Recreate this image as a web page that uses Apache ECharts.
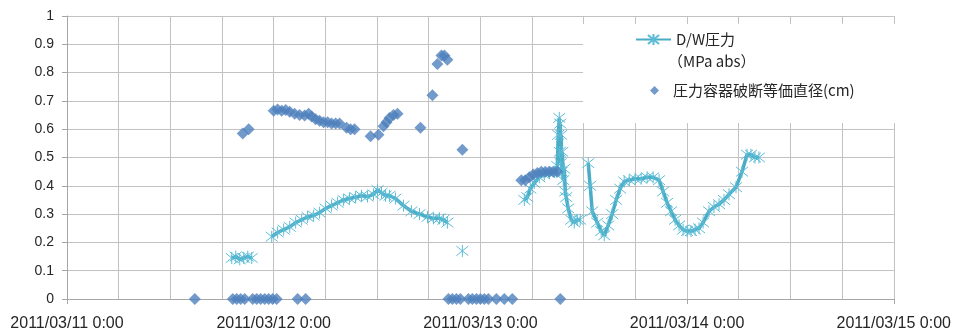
<!DOCTYPE html>
<html>
<head>
<meta charset="utf-8">
<script src="https://cdn.jsdelivr.net/npm/echarts@6/dist/echarts.min.js"></script>
<style>
html, body { margin: 0; padding: 0; background: #fff; }
#chart { width: 954px; height: 334px; }
</style>
</head>
<body>
<div id="chart"></div>
<script>
// x values are hours since 2011/03/11 0:00
var dayLabels = ['2011/03/11 0:00', '2011/03/12 0:00', '2011/03/13 0:00', '2011/03/14 0:00', '2011/03/15 0:00'];

// D/W pressure (MPa abs), null = gap in the line
var dwHours = [19.13, 19.59, 20.06, 20.52, 20.99, 21.45, 22.5,
	23.77, 24.46, 25.16, 25.86, 26.55, 27.25, 27.94, 28.64, 29.33, 30.03, 30.72, 31.42, 32.12, 32.81,
	33.51, 34.20, 34.90, 35.59, 36.06, 36.52, 36.99, 37.45, 38.14, 39.07, 40.00, 40.93, 41.86, 42.55,
	43.25, 43.71, 44.17, 45.0,
	45.91, 50.0,
	53.10, 53.45, 53.80, 54.26, 54.84, 55.42, 56.00, 56.58, 56.81, 56.93, 57.04, 57.16, 57.22, 57.28,
	57.33, 57.39, 57.45, 57.51, 57.62, 57.74, 57.86, 57.97, 58.20, 58.55, 58.90, 59.25, 59.59, 60.0,
	60.52, 60.75, 60.99, 61.57, 62.03, 62.38, 62.84, 63.30, 63.77, 64.23, 64.70, 65.28, 65.97, 66.67,
	67.36, 68.06, 68.75, 69.22, 69.68, 70.14, 70.61, 71.07, 71.54, 72.00, 72.46, 72.93, 73.39, 73.86,
	74.55, 75.13, 75.71, 76.29, 76.87, 77.68, 78.38, 78.96, 79.42, 79.88, 80.35];
var dwValues = [0.145, 0.15, 0.14, 0.145, 0.15, 0.145, null,
	0.22, 0.235, 0.245, 0.255, 0.27, 0.28, 0.29, 0.295, 0.305, 0.32, 0.33, 0.34, 0.35, 0.355,
	0.36, 0.365, 0.362, 0.37, 0.385, 0.375, 0.365, 0.365, 0.355, 0.33, 0.31, 0.30, 0.29, 0.285,
	0.285, 0.28, 0.27, null,
	0.17, null,
	0.35, 0.36, 0.39, 0.41, 0.43, 0.44, 0.445, 0.45, 0.45, 0.47, 0.58, 0.64, 0.52, 0.62,
	0.48, 0.58, 0.45, 0.52, 0.42, 0.46, 0.38, 0.36, 0.32, 0.28, 0.27, 0.28, 0.28, null,
	0.48, 0.40, 0.31, 0.27, 0.24, 0.225, 0.26, 0.30, 0.35, 0.39, 0.415, 0.42, 0.425, 0.425,
	0.43, 0.43, 0.42, 0.38, 0.34, 0.31, 0.28, 0.26, 0.245, 0.24, 0.24, 0.245, 0.25, 0.27,
	0.31, 0.325, 0.335, 0.35, 0.37, 0.395, 0.45, 0.51, 0.51, 0.50, 0.50];

// equivalent break diameter of the pressure vessel (cm)
var breakHours = [14.84, 19.25, 19.71, 20.17, 20.64, 21.57, 22.03, 22.49, 22.96, 23.42, 23.88, 24.35,
	26.78, 27.71, 44.29, 44.75, 45.22, 45.68, 46.61, 47.07, 47.54, 48.00, 48.46, 48.93, 49.86, 50.78,
	51.71, 57.28,
	20.41, 21.10, 24.00, 24.46, 24.93, 25.39, 25.86, 26.43, 27.01, 27.59, 28.06, 28.41, 28.87, 29.33,
	29.80, 30.26, 30.72, 31.19, 31.65, 32.46, 32.93, 33.39, 35.25, 36.17, 36.75, 37.10, 37.45, 37.91,
	38.38, 41.04, 42.43, 43.01, 43.48, 43.83, 44.17, 45.91,
	52.75, 53.22, 53.68, 54.14, 54.61, 55.07, 55.54, 56.00, 56.46, 56.93];
var breakValues = [0, 0, 0, 0, 0, 0, 0, 0, 0, 0, 0, 0,
	0, 0, 0, 0, 0, 0, 0, 0, 0, 0, 0, 0, 0, 0,
	0, 0,
	0.585, 0.60, 0.665, 0.67, 0.665, 0.668, 0.662, 0.655, 0.65, 0.648, 0.655, 0.645, 0.635, 0.63,
	0.625, 0.625, 0.62, 0.62, 0.62, 0.605, 0.60, 0.60, 0.575, 0.58, 0.61, 0.625, 0.64, 0.65,
	0.655, 0.605, 0.72, 0.83, 0.86, 0.86, 0.845, 0.527,
	0.42, 0.42, 0.43, 0.44, 0.445, 0.45, 0.45, 0.45, 0.45, 0.45];

function pairs(xs, ys) {
	var out = [];
	for (var i = 0; i < xs.length; i++) {
		out.push([xs[i], ys[i]]);
	}
	return out;
}

var gridColor = '#c2c2c2';
var textColor = '#262626';
var labelFont = 'Liberation Sans';
var cjkFont = 'Noto Sans CJK JP';
var asterisk = 'path://M1,1L9,9M9,1L1,9M5,0L5,10';

var chart = echarts.init(document.getElementById('chart'));
chart.setOption({
	animation: false,
	grid: { left: 67, right: 59, top: 16, bottom: 35 },
	xAxis: {
		type: 'value',
		min: 0,
		max: 96,
		interval: 24,
		axisLine: { show: true, lineStyle: { color: '#a6a6a6', width: 1 } },
		axisTick: { show: true, inside: false, length: 5, lineStyle: { color: '#a6a6a6' } },
		minorTick: { show: false, splitNumber: 4 },
		splitLine: { show: true, lineStyle: { color: gridColor, width: 1 } },
		minorSplitLine: { show: true, lineStyle: { color: gridColor, width: 1 } },
		axisLabel: {
			margin: 17,
			fontFamily: labelFont,
			fontSize: 16,
			color: textColor,
			formatter: function(v) {
				return dayLabels[Math.round(v / 24)];
			}
		}
	},
	yAxis: {
		type: 'value',
		min: 0,
		max: 1,
		interval: 0.1,
		axisLine: { show: true, lineStyle: { color: '#a6a6a6', width: 1 } },
		axisTick: { show: true, inside: false, length: 5, lineStyle: { color: '#a6a6a6' } },
		splitLine: { show: true, lineStyle: { color: gridColor, width: 1 } },
		axisLabel: {
			margin: 13,
			fontFamily: labelFont,
			fontSize: 14,
			color: textColor,
			formatter: function(v) {
				return String(Math.round(v * 10) / 10);
			}
		}
	},
	legend: [{
		data: ['D/W圧力'],
		left: 630,
		top: 27,
		orient: 'vertical',
		itemWidth: 35,
		itemHeight: 14,
		textStyle: { fontFamily: cjkFont, fontSize: 15, color: textColor }
	}, {
		data: ['圧力容器破断等価直径(cm)'],
		left: 645,
		top: 78,
		orient: 'vertical',
		itemWidth: 9,
		itemHeight: 9,
		textStyle: { fontFamily: cjkFont, fontSize: 15, color: textColor, padding: [0, 0, 0, 9] }
	}],
	graphic: [{
		type: 'rect',
		z: 3,
		shape: { x: 583, y: 24, width: 330, height: 99 },
		style: { fill: '#fff' }
	}, {
		type: 'text',
		z: 5,
		left: 668,
		top: 54,
		style: { text: '（MPa abs）', font: '15px "Noto Sans CJK JP"', fill: textColor }
	}],
	series: [{
		name: 'D/W圧力',
		type: 'line',
		data: pairs(dwHours, dwValues),
		connectNulls: false,
		symbol: asterisk,
		symbolSize: 12,
		showAllSymbol: true,
		lineStyle: { color: '#4BACC6', width: 3.5 },
		itemStyle: { color: '#4BACC6', borderColor: '#5cbcd6', borderWidth: 1 },
		z: 2
	}, {
		name: '圧力容器破断等価直径(cm)',
		type: 'scatter',
		data: pairs(breakHours, breakValues),
		symbol: 'diamond',
		symbolSize: 12,
		itemStyle: { color: '#4F81BD' },
		z: 3
	}]
});
</script>
</body>
</html>
